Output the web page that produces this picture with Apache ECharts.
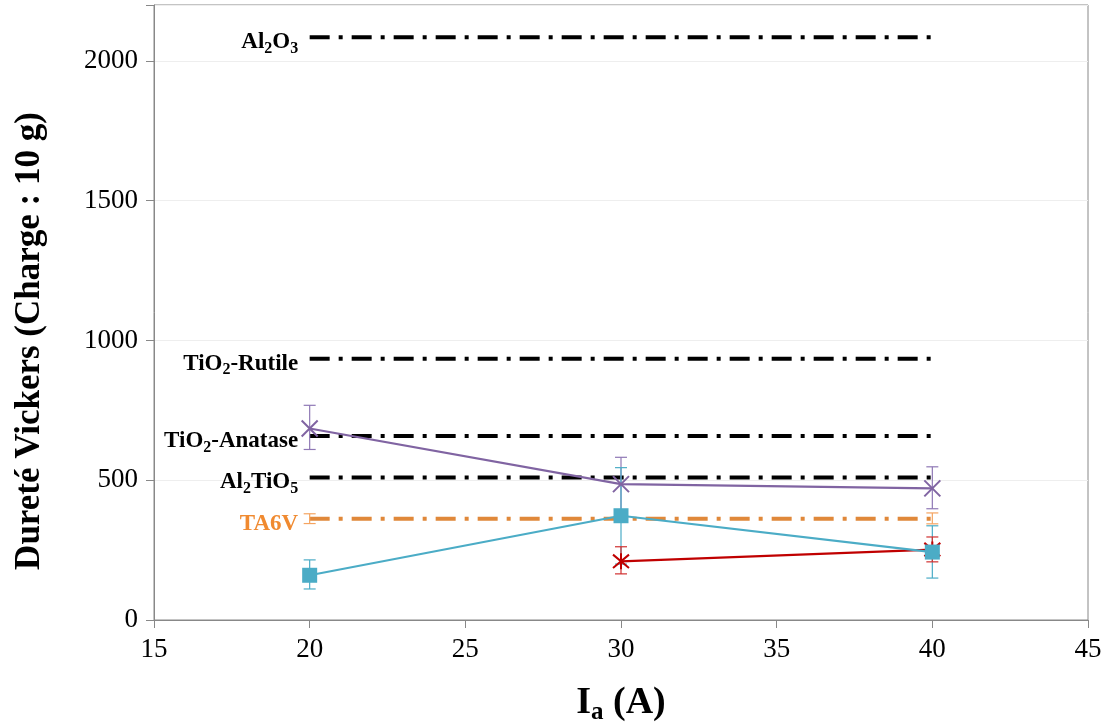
<!DOCTYPE html>
<html><head><meta charset="utf-8">
<script src="https://cdn.jsdelivr.net/npm/echarts@6/dist/echarts.min.js"></script>
<style>html,body{margin:0;padding:0;background:#fff}#c{width:1109px;height:724px}</style>
</head><body><div id="c"></div>
<script>
// ---- data ----
const xCurrent = [20, 30, 40];
const purpleVals = [685, 486, 471];
const purpleLow = [610, 395, 398];
const purpleHigh = [768, 582, 548];
const cyanVals = [160, 373, 243];
const cyanLow = [111, 200, 150];
const cyanHigh = [215, 545, 337];
const redX = [30, 40];
const redVals = [210, 252];
const redLow = [165, 208];
const redHigh = [262, 297];
const refNames = ['Al2O3', 'TiO2-Rutile', 'TiO2-Anatase', 'Al2TiO5', 'TA6V'];
const refVals = [2085, 935, 658, 510, 362];
const ta6vLow = [345, 344];
const ta6vHigh = [380, 383];
const refRange = [20, 40];
const yTicks = [0, 500, 1000, 1500, 2000];

const chart = echarts.init(document.getElementById('c'));
const FONT = 'Liberation Serif';
const XPATH = 'path://M0,0L10,10M10,0L0,10';
const STARPATH = 'path://M0,0L10,10M10,0L0,10M5,-1L5,11';

function errSeries(xs, lows, highs, color) {
  return {
    type: 'custom', silent: true, z: 3,
    data: xs.map((x, i) => [x, lows[i], highs[i]]),
    renderItem: function (params, api) {
      const lo = api.coord([api.value(0), api.value(1)]);
      const hi = api.coord([api.value(0), api.value(2)]);
      const w = 6;
      const st = {stroke: color, lineWidth: 1.2};
      return {type: 'group', children: [
        {type: 'line', shape: {x1: lo[0], y1: lo[1], x2: hi[0], y2: hi[1]}, style: st},
        {type: 'line', shape: {x1: lo[0]-w, y1: lo[1], x2: lo[0]+w, y2: lo[1]}, style: st},
        {type: 'line', shape: {x1: hi[0]-w, y1: hi[1], x2: hi[0]+w, y2: hi[1]}, style: st}
      ]};
    }
  };
}

const labelRich = {
  b: {fontFamily: FONT, fontWeight: 'bold', fontSize: 23, color: '#000'},
  s: {fontFamily: FONT, fontWeight: 'bold', fontSize: 16, color: '#000', verticalAlign: 'bottom', padding: [13, 0, 0, 0]},
  o: {fontFamily: FONT, fontWeight: 'bold', fontSize: 23, color: '#F08A30'}
};
const refLabelFmt = {
  'Al2O3': '{b|Al}{s|2}{b|O}{s|3}',
  'TiO2-Rutile': '{b|TiO}{s|2}{b|-Rutile}',
  'TiO2-Anatase': '{b|TiO}{s|2}{b|-Anatase}',
  'Al2TiO5': '{b|Al}{s|2}{b|TiO}{s|5}',
  'TA6V': '{o|TA6V}'
};

const series = [];
refNames.forEach((n, i) => {
  const col = n === 'TA6V' ? '#E0883A' : '#000';
  series.push({
    type: 'line', silent: true, z: 2, symbol: 'none',
    data: refRange.map(x => [x, refVals[i]]),
    lineStyle: {color: col, width: 4, type: [20, 9, 4, 9], cap: 'butt'}
  });
  series.push({
    type: 'scatter', silent: true, z: 1, symbolSize: 1, itemStyle: {color: '#ffffff', opacity: 1},
    emphasis: {disabled: true},
    data: [[refRange[0], refVals[i]]],
    label: {show: true, position: 'left', distance: 11, color: '#000', opacity: 1, textBorderWidth: 0,
      formatter: refLabelFmt[n], rich: labelRich, offset: [0, 5]}
  });
});
series.push(errSeries(refRange, ta6vLow, ta6vHigh, '#F5A460'));
series.push(errSeries(xCurrent, purpleLow, purpleHigh, '#8F78B5'));
series.push(errSeries(xCurrent, cyanLow, cyanHigh, '#4BACC6'));
series.push(errSeries(redX, redLow, redHigh, '#D03030'));
series.push({
  type: 'line', z: 5, data: xCurrent.map((x, i) => [x, purpleVals[i]]),
  symbol: XPATH, symbolSize: 16,
  itemStyle: {color: 'transparent', borderColor: '#8064A2', borderWidth: 2},
  lineStyle: {color: '#8064A2', width: 2.2}
});
series.push({
  type: 'line', z: 5, data: redX.map((x, i) => [x, redVals[i]]),
  symbol: STARPATH, symbolSize: 16,
  itemStyle: {color: 'transparent', borderColor: '#C00000', borderWidth: 2},
  lineStyle: {color: '#C00000', width: 2.2}
});
series.push({
  type: 'line', z: 5, data: xCurrent.map((x, i) => [x, cyanVals[i]]),
  symbol: 'rect', symbolSize: 15,
  itemStyle: {color: '#4BACC6'},
  lineStyle: {color: '#4BACC6', width: 2.2}
});

chart.setOption({
  animation: false,
  backgroundColor: '#fff',
  grid: {left: 154, right: 21, top: 5, bottom: 104, containLabel: false, outerBoundsMode: 'none',
    show: true, borderColor: '#888', borderWidth: 1},
  graphic: [{
    type: 'text', x: 30, y: 341, rotation: Math.PI / 2,
    style: {text: 'Dureté Vickers (Charge : 10 g)', fill: '#000',
      font: 'bold 35px "Liberation Serif"', align: 'center', verticalAlign: 'middle'}
  }],
  xAxis: {
    type: 'value', min: 15, max: 45, interval: 5,
    axisLine: {lineStyle: {color: '#888'}},
    axisTick: {show: true, length: 8, lineStyle: {color: '#888'}},
    splitLine: {show: false},
    axisLabel: {fontFamily: FONT, fontSize: 27, color: '#000', margin: 16},
    name: '{b|I}{s|a}{b| (A)}', nameLocation: 'middle', nameGap: 62,
    nameTextStyle: {rich: {
      b: {fontFamily: FONT, fontWeight: 'bold', fontSize: 38, color: '#000'},
      s: {fontFamily: FONT, fontWeight: 'bold', fontSize: 25, color: '#000', padding: [18, 0, 0, 0]}
    }}
  },
  yAxis: {
    type: 'value', min: 0, max: 2200, interval: 500,
    axisLine: {show: true, lineStyle: {color: '#888'}},
    axisTick: {show: true, length: 8, lineStyle: {color: '#888'}},
    splitLine: {show: true, lineStyle: {color: '#eeeeee'}},
    axisLabel: {fontFamily: FONT, fontSize: 27, color: '#000', margin: 16,
      formatter: v => yTicks.indexOf(v) >= 0 ? String(v) : ''}
  },
  series: series
});
</script></body></html>
